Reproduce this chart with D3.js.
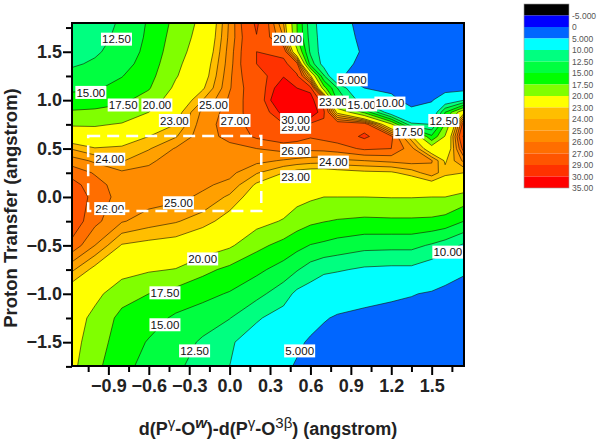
<!DOCTYPE html>
<html>
<head>
<meta charset="utf-8">
<title>Proton transfer energy map</title>
<script src="https://d3js.org/d3.v7.min.js"></script>
<style>
	body { margin: 0; background: white; }
	text { font-family: "Liberation Sans", Arial, sans-serif; }
	.tick text { font-weight: bold; font-size: 18px; fill: #222; }
	.tick line { stroke: black; stroke-width: 2; }
	.domain { display: none; }
</style>
</head>
<body>
<svg id="viz" width="601" height="444"></svg>
<script>
// grid positions of the energy table
var gridX = [-1.17, -1, -0.8, -0.6, -0.4, -0.2, 0, 0.2, 0.4, 0.5, 0.6, 0.7, 0.8, 1, 1.2, 1.35, 1.5, 1.6, 1.74];
var gridY = [1.8, 1.65, 1.5, 1.375, 1.25, 1.125, 1, 0.875, 0.75, 0.625, 0.5, 0.375, 0.25, 0.125, 0, -0.25, -0.5, -0.75, -1, -1.25, -1.5, -1.75];

// energy, one row per gridY value
var energy = [
	[11, 11.5, 12.8, 15.3, 18.2, 20.7, 25.2, 29.4, 24, 17.5, 11, 8.7, 6.8, 3.5, 2.5, 2, 2, 2, 2],
	[11.3, 11.8, 13, 15.5, 18.6, 21, 25.3, 28.9, 25, 17.6, 11.5, 8.6, 7, 4, 2.5, 2, 2, 2, 2],
	[11.8, 12.2, 13.4, 15.8, 19, 21.4, 25.5, 29, 28.3, 20.6, 12, 8.6, 7.2, 4.5, 2.5, 2, 2, 2, 2],
	[12.2, 12.8, 14, 16.2, 19.4, 21.9, 25.6, 29, 29.6, 27.5, 14, 8.7, 6.8, 3.8, 2.5, 2, 2, 2, 2],
	[13.2, 13.7, 14.9, 16.7, 19.8, 22.2, 25.8, 28.4, 29.9, 29.3, 23.5, 12.8, 5.5, 3.5, 2.5, 2, 2, 2, 2],
	[14.5, 14.7, 15.8, 17.3, 20.5, 22.8, 25.9, 28, 31, 30, 29.6, 18.5, 12.5, 5, 4.4, 2.5, 2.5, 3.5, 3.5],
	[16, 16.2, 17, 18.5, 21.5, 24, 26.2, 27.8, 32, 31.5, 30.6, 28.2, 14.5, 8.2, 5.7, 4, 4.7, 7.5, 10],
	[17.8, 18, 18.4, 20, 22.3, 25.3, 26.4, 27.6, 30.5, 31, 31, 29.2, 22.5, 17, 7.7, 5.8, 6.8, 15, 22.5],
	[19.7, 19.7, 20.2, 21.6, 23, 25.6, 26.4, 27.5, 28.9, 28.8, 28.8, 28.8, 28.3, 28, 20.5, 10.5, 10, 17.8, 28],
	[21.8, 21.4, 21.8, 23, 23.9, 25.7, 26.2, 27.2, 27.7, 27.5, 27.1, 27.3, 27.6, 29.4, 27.3, 23.3, 15.5, 20.2, 29.4],
	[23.9, 23.1, 23.3, 23.9, 25.1, 25.8, 25.8, 26, 26.4, 26.3, 26.3, 26.4, 26.5, 27.2, 27, 25.4, 21.5, 21, 27.7],
	[25.5, 24.8, 23.9, 24.8, 25.5, 25.7, 25.6, 25.3, 24.9, 24.7, 24.5, 24.4, 24.8, 25, 25.3, 25.5, 25.1, 22.8, 25.3],
	[26.6, 25.9, 25.2, 25.3, 25.7, 25.5, 25.3, 24.1, 23, 22.5, 22.3, 22.3, 22.4, 22.7, 22.8, 23.5, 24.6, 23.4, 23],
	[27.4, 26.4, 25.5, 25.5, 25.6, 25.2, 24.7, 22.8, 22.5, 21.9, 21.8, 21.3, 21.1, 21.2, 21.1, 21.6, 22.3, 21.7, 21.8],
	[27.9, 26.6, 25.6, 25.5, 25.3, 24.8, 23.8, 22.2, 21.7, 20.9, 20.4, 20, 20, 20, 20.1, 20.1, 20, 20, 19],
	[27.7, 26.3, 25.1, 24.5, 24.1, 23.5, 22.4, 20.9, 19.8, 18.7, 18, 17.6, 17.3, 17, 17.1, 17.1, 17, 16.6, 15],
	[26.7, 25, 22.9, 22.6, 22.4, 21.6, 20.4, 18.2, 16.7, 15.8, 14.9, 14.5, 14, 13.3, 13.2, 13.2, 12.2, 11.3, 9.6],
	[24.2, 22.6, 21, 20.3, 19.9, 18.2, 16.9, 15.6, 14, 12.7, 11.4, 10.5, 10.3, 9.6, 9.4, 9.4, 8.4, 7.3, 5.7],
	[21.9, 20.7, 18.5, 17.5, 16.6, 15.7, 14.8, 13.3, 11.1, 9.4, 8.7, 8, 7.2, 6.1, 5.6, 5.2, 4.6, 3.8, 3],
	[21.3, 19.3, 16.8, 16, 14.6, 13.8, 12.6, 10.3, 8.9, 7.4, 6.4, 5.3, 4.6, 4.2, 3.8, 3.5, 3.2, 3, 2.5],
	[21, 18.6, 16.4, 14.8, 13.8, 12.1, 10.3, 8.8, 7.5, 5.7, 4.5, 3.8, 3.5, 3.2, 3, 2.8, 2.6, 2.4, 2.2],
	[20.6, 18.1, 15.9, 14, 13.2, 11, 10, 7.5, 5.8, 4.6, 3.6, 3.2, 3, 2.8, 2.6, 2.4, 2.2, 2.1, 2]
];

// legend bands, top to bottom. the label sits at the bottom edge of its band
var levelLabels = ["-5.000", "0", "5.000", "10.00", "12.50", "15.00", "17.50", "20.00", "23.00", "24.00", "25.00", "26.00", "27.00", "29.00", "30.00", "35.00"];
var levelValues = [-5, 0, 5, 10, 12.5, 15, 17.5, 20, 23, 24, 25, 26, 27, 29, 30];
var levelColors = ["#000000", "#0000ff", "#0066ff", "#00ffff", "#00ff80", "#00ff40", "#00ff00", "#80ff00", "#ffff00", "#ffbe00", "#ffa000", "#ff8c00", "#ff6e00", "#ff5500", "#ff3200", "#ff0000"];

var xTicks = [-0.9, -0.6, -0.3, 0, 0.3, 0.6, 0.9, 1.2, 1.5];
var xMinor = [-1.05, -0.75, -0.45, -0.15, 0.15, 0.45, 0.75, 1.05, 1.35, 1.65];
var yTicks = [1.5, 1, 0.5, 0, -0.5, -1, -1.5];
var yMinor = [1.75, 1.25, 0.75, 0.25, -0.25, -0.75, -1.25, -1.75];

// contour labels, in chart units. later ones cover earlier ones
var labelText = ["12.50", "15.00", "17.50", "20.00", "23.00", "25.00", "27.00", "24.00", "26.00", "25.00", "20.00", "5.000", "23.00", "15.00", "10.00", "29.00", "30.00", "26.00", "24.00", "23.00", "17.50", "12.50", "20.00", "17.50", "15.00", "12.50", "5.000", "10.00"];
var labelX = [-0.84, -1.03, -0.79, -0.54, -0.41, -0.12, 0.04, -0.89, -0.89, -0.38, 0.43, 0.91, 0.77, 0.98, 1.19, 0.49, 0.49, 0.49, 0.77, 0.49, 1.33, 1.59, -0.2, -0.48, -0.48, -0.26, 0.52, 1.62];
var labelY = [1.63, 1.08, 0.95, 0.95, 0.79, 0.95, 0.79, 0.39, -0.12, -0.06, 1.63, 1.21, 0.98, 0.95, 0.97, 0.72, 0.8, 0.48, 0.36, 0.21, 0.67, 0.79, -0.64, -0.99, -1.32, -1.59, -1.59, -0.57];

// dashed box
var boxX = [-1.05, 0.235];
var boxY = [0.63, -0.145];

var svg = d3.select("#viz");

var x = d3.scaleLinear().domain([-1.17, 1.74]).range([72, 464]);
var y = d3.scaleLinear().domain([1.797, -1.746]).range([23, 366]);

// contour coordinates -> grid index -> chart units
var colToX = d3.scaleLinear().domain(d3.range(gridX.length)).range(gridX);
var rowToY = d3.scaleLinear().domain(d3.range(gridY.length)).range(gridY);

var project = d3.geoTransform({
	point: function(px, py) {
		this.stream.point(x(colToX(px - 0.5)), y(rowToY(py - 0.5)));
	}
});
var path = d3.geoPath(project);

svg.append("clipPath").attr("id", "plotClip")
	.append("rect")
	.attr("x", x.range()[0]).attr("y", y.range()[0])
	.attr("width", x.range()[1] - x.range()[0])
	.attr("height", y.range()[1] - y.range()[0]);

var plot = svg.append("g").attr("clip-path", "url(#plotClip)");

// everything under the 5 level stays this colour
plot.append("rect")
	.attr("x", x.range()[0]).attr("y", y.range()[0])
	.attr("width", x.range()[1] - x.range()[0])
	.attr("height", y.range()[1] - y.range()[0])
	.attr("fill", levelColors[2]);

var contourLevels = levelValues.slice(2);
var contours = d3.contours()
	.size([gridX.length, gridY.length])
	.thresholds(contourLevels)
	(d3.merge(energy));

plot.selectAll(".band")
	.data(contours)
	.enter().append("path")
	.attr("class", "band")
	.attr("d", path)
	.attr("fill", function(d, i) { return levelColors[i + 3]; })
	.attr("stroke", "#1a1000")
	.attr("stroke-width", 0.6)
	.attr("stroke-linejoin", "round");

// labels on white boxes
var labels = plot.selectAll(".clabel")
	.data(labelText)
	.enter().append("g")
	.attr("class", "clabel")
	.attr("transform", function(d, i) {
		return "translate(" + x(labelX[i]) + "," + y(labelY[i]) + ")";
	});
labels.append("rect")
	.attr("x", -15.5).attr("y", -6.5)
	.attr("width", 31).attr("height", 13)
	.attr("fill", "white");
labels.append("text")
	.attr("text-anchor", "middle")
	.attr("dy", "0.36em")
	.attr("font-size", 11.5)
	.attr("fill", "#111")
	.text(function(d) { return d; });

// white dashed rectangle goes over the labels
svg.append("rect")
	.attr("x", x(boxX[0])).attr("y", y(boxY[0]))
	.attr("width", x(boxX[1]) - x(boxX[0]))
	.attr("height", y(boxY[1]) - y(boxY[0]))
	.attr("fill", "none")
	.attr("stroke", "white")
	.attr("stroke-width", 2.5)
	.attr("stroke-dasharray", "12,7");

// frame
svg.append("rect")
	.attr("x", x.range()[0]).attr("y", y.range()[0])
	.attr("width", x.range()[1] - x.range()[0])
	.attr("height", y.range()[1] - y.range()[0])
	.attr("fill", "none")
	.attr("stroke", "black")
	.attr("stroke-width", 2);

// axes
svg.append("g")
	.attr("transform", "translate(0," + y.range()[1] + ")")
	.call(d3.axisBottom(x).tickValues(xMinor).tickSize(6).tickFormat(""));
svg.append("g")
	.attr("transform", "translate(0," + y.range()[1] + ")")
	.call(d3.axisBottom(x).tickValues(xTicks).tickSize(9).tickPadding(4).tickFormat(d3.format(".1f")));
svg.append("g")
	.attr("transform", "translate(" + x.range()[0] + ",0)")
	.call(d3.axisLeft(y).tickValues(yMinor).tickSize(6).tickFormat(""));
svg.append("g")
	.attr("transform", "translate(" + x.range()[0] + ",0)")
	.call(d3.axisLeft(y).tickValues(yTicks).tickSize(9).tickPadding(1).tickFormat(d3.format(".1f")));

// axis titles
svg.append("text")
	.attr("transform", "translate(17,208) rotate(-90)")
	.attr("text-anchor", "middle")
	.attr("font-size", 18.5)
	.attr("font-weight", "bold")
	.attr("fill", "#222")
	.text("Proton Transfer (angstrom)");

var xTitle = svg.append("text")
	.attr("x", 268).attr("y", 435)
	.attr("text-anchor", "middle")
	.attr("font-size", 18)
	.attr("font-weight", "bold")
	.attr("fill", "#222");

// a run of [text, raised?, extra style]
var titleParts = [
	["d(P", 0], ["γ", 1, "sym"], ["-O", 0], ["w", 1, "w"], [")-d(P", 0],
	["γ", 1, "sym"], ["-O", 0], ["3β", 1, "sym"], [") (angstrom)", 0]
];
var lastRaised = 0;
titleParts.forEach(function(p) {
	var t = xTitle.append("tspan")
		.attr("dy", (p[1] - lastRaised) * -7)
		.text(p[0]);
	if (p[2] == "sym") {
		t.attr("font-weight", "normal").attr("font-size", 15);
	}
	if (p[2] == "w") {
		t.attr("font-style", "italic").attr("font-size", 15);
	}
	lastRaised = p[1];
});

// legend
var bandScale = d3.scaleBand()
	.domain(d3.range(levelColors.length))
	.range([4, 188]);

var legend = svg.append("g");
legend.selectAll("rect")
	.data(levelColors)
	.enter().append("rect")
	.attr("x", 524)
	.attr("y", function(d, i) { return bandScale(i); })
	.attr("width", 45)
	.attr("height", bandScale.bandwidth())
	.attr("fill", function(d) { return d; });
legend.append("rect")
	.attr("x", 524).attr("y", 4)
	.attr("width", 45).attr("height", 184)
	.attr("fill", "none")
	.attr("stroke", "#999")
	.attr("stroke-width", 0.6);
legend.selectAll("text")
	.data(levelLabels)
	.enter().append("text")
	.attr("x", 572)
	.attr("y", function(d, i) { return bandScale(i) + bandScale.bandwidth(); })
	.attr("dy", "0.36em")
	.attr("font-size", 8.5)
	.attr("fill", "#555")
	.text(function(d) { return d; });
</script>
</body>
</html>
